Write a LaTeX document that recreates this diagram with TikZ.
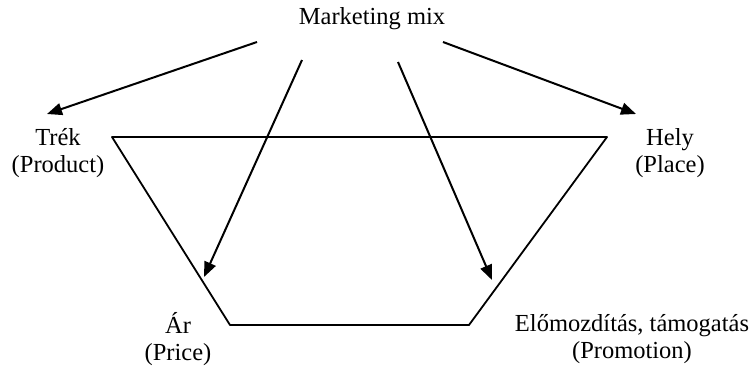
\documentclass[tikz,border=0pt]{standalone}
\usepackage{fontspec}
\setmainfont{Liberation Serif}
\usetikzlibrary{positioning, arrows.meta}

\begin{document}
\begin{tikzpicture}[
    x=1pt, y=-1pt,
    >={Triangle[length=15pt, width=12pt]},
    lbl/.style={align=center, font=\fontsize{24.5}{27}\selectfont, inner sep=0pt},
    mixarrow/.style={->, line width=2pt, black},
    frame/.style={line width=1.8pt, black, line join=round}
]

% fix the page to the size of the reference
\useasboundingbox (0,0) rectangle (755,370);

% Title
\node[lbl] (mix) at (372,19) {Marketing mix};

% The four Ps
\node[lbl] (product) at (58,153) {Trék\\(Product)};
\node[lbl] (place) at (670,153) {Hely\\(Place)};
\node[lbl] (price) at (178,339) {Ár\\(Price)};
\node[lbl] (promo) at (632,339) {Előmozdítás, támogatás\\(Promotion)};

% Arrow ends
\coordinate (a_prod) at (257,42);
\coordinate (a_place) at (443,42);
\coordinate (a_price) at (302,60);
\coordinate (a_promo) at (398,62);
\coordinate (t_prod) at (47,114);
\coordinate (t_place) at (636,114);
\coordinate (t_price) at (204,277);
\coordinate (t_promo) at (492,280);

% Trapezoid
\coordinate (tl) at (112,137);
\coordinate (tr) at (607,137);
\coordinate (br) at (469,325);
\coordinate (bl) at (230,325);
\draw[frame] (tl) -- (tr) -- (br) -- (bl) -- cycle;

% Arrows from the mix
\draw[mixarrow] (a_prod) -- (t_prod);
\draw[mixarrow] (a_place) -- (t_place);
\draw[mixarrow] (a_price) -- (t_price);
\draw[mixarrow] (a_promo) -- (t_promo);

\end{tikzpicture}
\end{document}
